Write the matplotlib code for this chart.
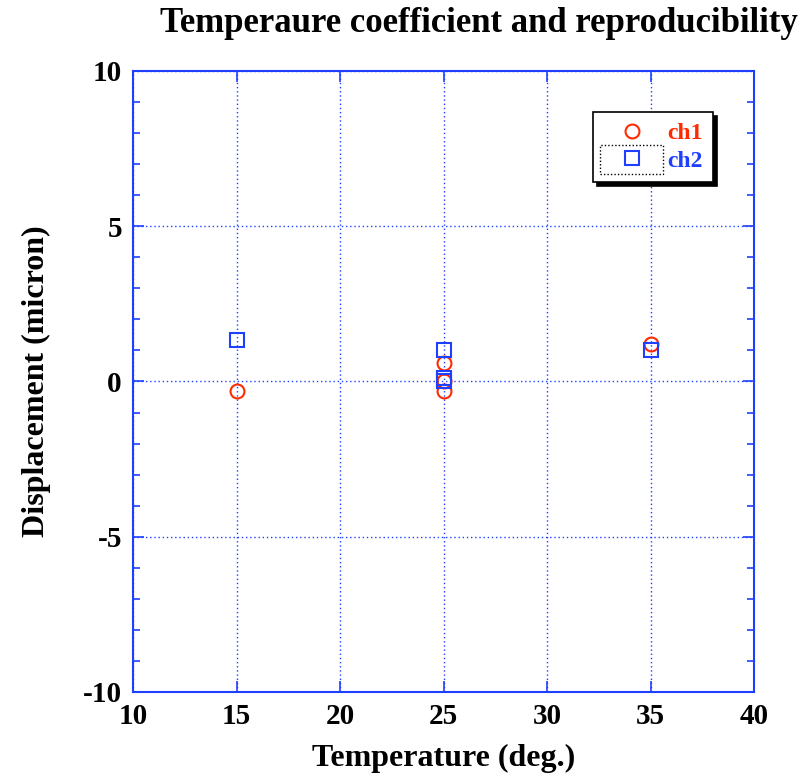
import matplotlib
matplotlib.use("Agg")
import matplotlib.pyplot as plt
from matplotlib.patches import Rectangle
from matplotlib.ticker import MultipleLocator

matplotlib.rcParams["font.family"] = "Liberation Serif"
matplotlib.rcParams["font.weight"] = "bold"
matplotlib.rcParams["axes.unicode_minus"] = False

# data
ch1_temp = [15, 25, 25, 25, 35]
ch1_disp = [-0.3, 0.6, 0.0, -0.3, 1.2]
ch2_temp = [15, 25, 25, 25, 35]
ch2_disp = [1.35, 1.0, 0.1, 0.0, 1.0]
xticks = [10, 15, 20, 25, 30, 35, 40]
yticks = [-10, -5, 0, 5, 10]

blue = "#1f3fff"
red = "#ff2a00"

fig = plt.figure(figsize=(8.05, 7.76), dpi=100)
ax = fig.add_axes([133 / 805, 84 / 776, 621 / 805, 621 / 776])

ax.plot(ch1_temp, ch1_disp, linestyle="none", marker="o", markersize=10,
        markerfacecolor="none", markeredgecolor=red, markeredgewidth=1.5, label="ch1", zorder=3)
ax.plot(ch2_temp, ch2_disp, linestyle="none", marker="s", markersize=10,
        markerfacecolor="none", markeredgecolor=blue, markeredgewidth=1.5, label="ch2", zorder=3)

ax.set_xlim(10, 40)
ax.set_ylim(-10, 10)
ax.set_xticks(xticks)
ax.set_yticks(yticks)
ax.yaxis.set_minor_locator(MultipleLocator(1))
ax.grid(True, which="major", color=blue, linestyle=(0, (1, 2)), linewidth=1)
for s in ax.spines.values():
    s.set_color(blue)
    s.set_linewidth(1.5)
ax.tick_params(which="both", direction="in", color=blue, top=True, right=True,
               labelsize=21, pad=8)
ax.tick_params(which="major", length=8, width=1.2)
ax.tick_params(which="minor", length=5, width=1.2)
for lab in ax.get_xticklabels() + ax.get_yticklabels():
    lab.set_fontweight("bold")

ax.set_xlabel("Temperature (deg.)", fontsize=23, fontweight="bold", labelpad=10)
ax.set_ylabel("Displacement (micron)", fontsize=23, fontweight="bold", labelpad=23)
fig.text(479 / 805, 1 - 23 / 776, "Temperaure coefficient and reproducibility",
         ha="center", va="center", fontsize=25, fontweight="bold")

leg = ax.legend(loc="upper right", bbox_to_anchor=(713 / 805, 1 - 112 / 776),
                bbox_transform=fig.transFigure, frameon=True, fancybox=False,
                shadow={"color": "black", "alpha": 1, "ox": 3, "oy": -3},
                markerfirst=True, handletextpad=0.25, borderpad=0.45, borderaxespad=0,
                labelspacing=0.25, handlelength=2.45, fontsize=17)
leg.get_frame().set_edgecolor("black")
leg.get_frame().set_linewidth(1.2)
for t, c in zip(leg.get_texts(), [red, blue]):
    t.set_color(c)
    t.set_fontweight("bold")

fig.patches.append(Rectangle((600 / 805, 1 - 174 / 776), 63 / 805, 29 / 776,
                             transform=fig.transFigure, fill=False,
                             edgecolor="black", linestyle=(0, (1, 1.5)), linewidth=1))

fig.savefig("out.png", dpi=100)
